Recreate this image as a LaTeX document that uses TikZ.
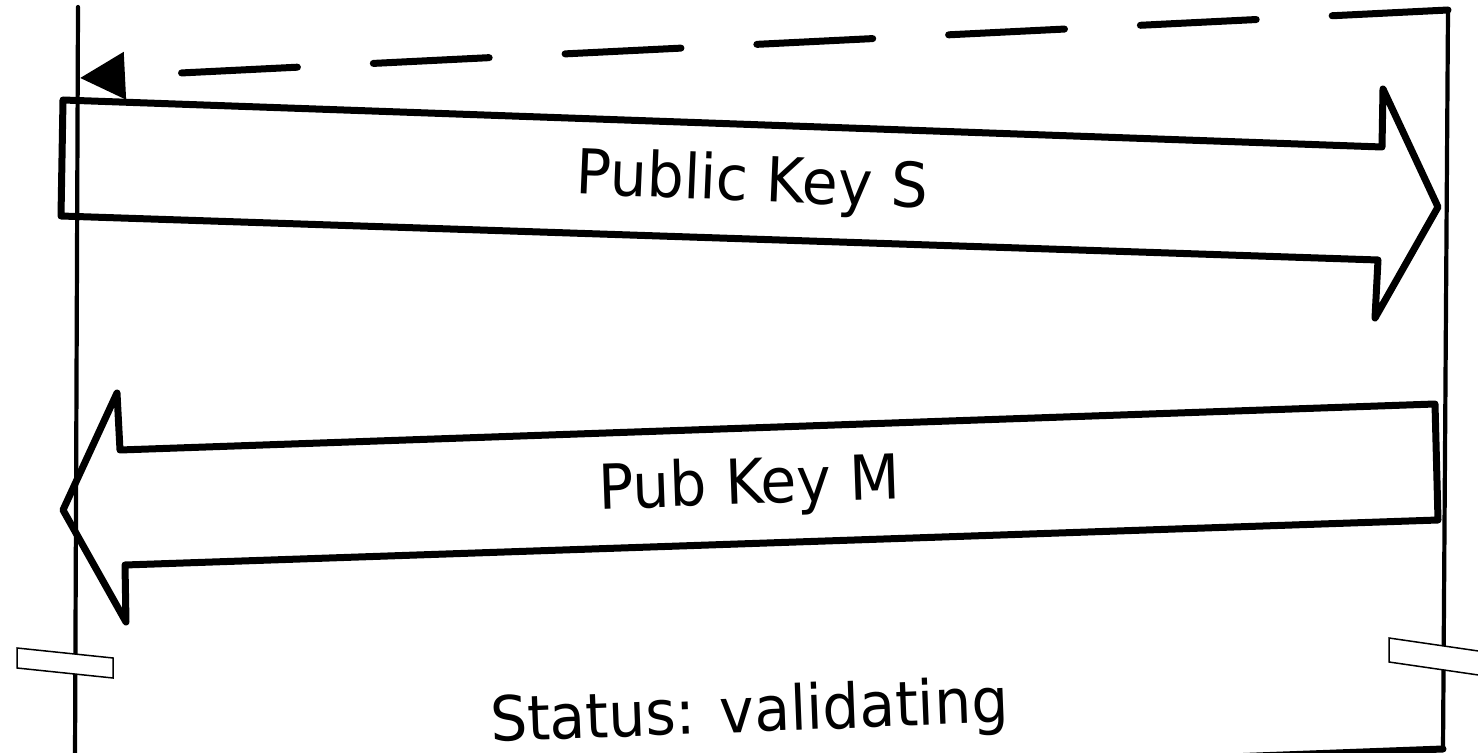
\documentclass[tikz,border=0pt]{standalone}
\usepackage{fontspec}
\setmainfont{DejaVu Sans}[FakeStretch=0.94]
\usetikzlibrary{arrows.meta}

\begin{document}
\begin{tikzpicture}[x=.5pt, y=-.5pt, line join=round, line cap=round,
		font=\fontsize{31}{36}\selectfont,
		lifeline/.style={line width=2.1pt},
		blockarrow/.style={line width=3.5pt},
		breakmark/.style={line width=.75pt, fill=white, line join=miter},
		reply/.style={line width=3.5pt, dash pattern=on 58pt off 38pt, -{Triangle[length=22.5pt, width=23pt]}}]
	\def\W{1478}
	\def\H{753}
	\useasboundingbox (0,0) rectangle (\W,\H);
	\clip (0,0) rectangle (\W,\H);
	% lifelines
	\coordinate (m top) at (78,7);
	\coordinate (m bot) at (75,760);
	\coordinate (s top) at (1448,10);
	\coordinate (s bot) at (1443,749);
	\coordinate (next) at (1150,760);
	\draw [lifeline] (m top) -- (m bot);
	\draw [lifeline] (s top) -- (s bot);
	\draw [blockarrow] (s bot) -- (next);
	% dashed reply
	\coordinate (reply tip) at (80,78);
	\draw [reply] (s top) -- (reply tip);
	% messages
	\draw [blockarrow] (63,100) -- (1382,147) -- (1383,89) -- (1438,207)
		-- (1375,318) -- (1378,260) -- (61,216) -- cycle;
	\draw [blockarrow] (63,510) -- (117,393) -- (120,450) -- (1435,404)
		-- (1438,520) -- (125,565) -- (126,622) -- cycle;
	\node (pubS) [anchor=base, rotate=-2.4, inner sep=0pt] at (751,201) {Public Key S};
	\node (pubM) [anchor=base, rotate=2, inner sep=0pt] at (750,504) {Pub Key M};
	% break marks and state
	\draw [breakmark] (17,648) -- (113,658) -- (113,678) -- (17,668) -- cycle;
	\draw [breakmark] (1389,638) -- (1499,654) -- (1499,678) -- (1389,662) -- cycle;
	\node (status) [anchor=base, rotate=2.2, inner sep=0pt, text depth=0pt] at (750,732) {Status: validating};
\end{tikzpicture}
\end{document}
